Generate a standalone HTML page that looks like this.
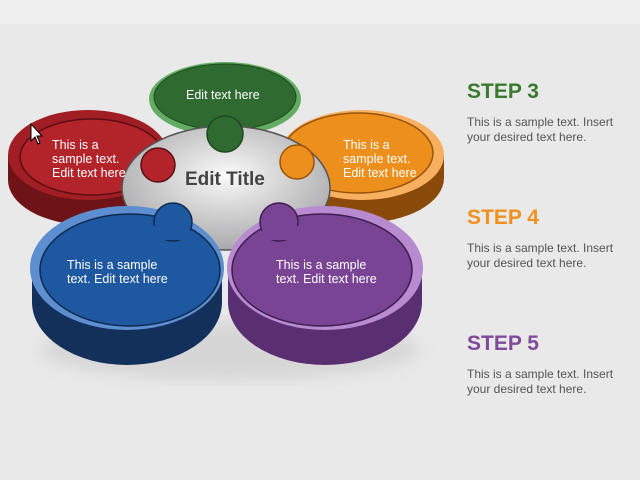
<!DOCTYPE html>
<html><head><meta charset="utf-8"><style>
body{margin:0;width:640px;height:480px;overflow:hidden;background:#e9e9e9;font-family:"Liberation Sans",sans-serif}
.s{position:absolute;left:467px;font-weight:bold;font-size:21px}
.t{position:absolute;left:467px;font-size:12px;color:#555;line-height:15px}
</style></head><body>
<div style="position:absolute;left:0;top:0;width:640px;height:24px;background:#efefef"></div>
<svg width="640" height="480" style="position:absolute;left:0;top:0">
<defs>
<radialGradient id="w" cx="0.5" cy="0.4" r="0.6"><stop offset="0" stop-color="#fafafa"/><stop offset="1" stop-color="#a9a9ab"/></radialGradient>
<filter id="b"><feGaussianBlur stdDeviation="8"/></filter>
</defs>
<ellipse cx="230" cy="350" rx="190" ry="30" fill="#c4c4c4" filter="url(#b)" opacity="0.5"/>
<!-- red -->
<ellipse cx="88" cy="180" rx="80" ry="45" fill="#6e1416"/>
<rect x="8" y="155" width="160" height="25" fill="#6e1416"/>
<ellipse cx="88" cy="155" rx="80" ry="45" fill="#a01e24"/>
<ellipse cx="92" cy="157" rx="72" ry="38" fill="#b3232a" stroke="#5a1012" stroke-width="1.5"/>
<!-- orange -->
<ellipse cx="362" cy="178" rx="82" ry="45" fill="#8a4a0a"/>
<rect x="280" y="155" width="164" height="23" fill="#8a4a0a"/>
<ellipse cx="362" cy="155" rx="82" ry="45" fill="#f6b060"/>
<ellipse cx="358" cy="153" rx="75" ry="40" fill="#ec8f1c" stroke="#9a5408" stroke-width="1.5"/>
<!-- green -->
<ellipse cx="225" cy="99" rx="76" ry="37" fill="#62ad62"/>
<ellipse cx="225" cy="97" rx="71" ry="33" fill="#2f6a30" stroke="#1d4a1e" stroke-width="1"/>
<!-- center -->
<ellipse cx="226" cy="188" rx="104" ry="62" fill="url(#w)" stroke="#555" stroke-width="1.5"/>
<circle cx="225" cy="134" r="18" fill="#2f6a30" stroke="#1d4a1e" stroke-width="1.5"/>
<circle cx="158" cy="165" r="17" fill="#b3232a" stroke="#5a1012" stroke-width="1.5"/>
<circle cx="297" cy="162" r="17" fill="#ec8f1c" stroke="#9a5408" stroke-width="1.5"/>
<!-- blue -->
<ellipse cx="127" cy="302" rx="95" ry="63" fill="#13305a"/>
<rect x="32" y="268" width="190" height="34" fill="#13305a"/>
<ellipse cx="127" cy="268" rx="97" ry="62" fill="#5c8ed0"/>
<ellipse cx="130" cy="270" rx="90" ry="56" fill="#1d58a0" stroke="#0e2a50" stroke-width="1.5"/>
<circle cx="173" cy="222" r="19" fill="#1d58a0" stroke="#0e2a50" stroke-width="1.5"/>
<rect x="150" y="226" width="40" height="14" fill="#1d58a0"/>
<!-- purple -->
<ellipse cx="325" cy="302" rx="97" ry="63" fill="#5a2f72"/>
<rect x="228" y="268" width="194" height="34" fill="#5a2f72"/>
<ellipse cx="325" cy="268" rx="98" ry="62" fill="#b88ad0"/>
<ellipse cx="322" cy="270" rx="90" ry="56" fill="#7a4494" stroke="#3e1e50" stroke-width="1.5"/>
<circle cx="279" cy="222" r="19" fill="#7a4494" stroke="#3e1e50" stroke-width="1.5"/>
<rect x="262" y="226" width="40" height="14" fill="#7a4494"/>
<g fill="#fff" font-size="12.5">
<text x="186" y="99">Edit text here</text>
<text x="52" y="149">This is a</text><text x="52" y="163">sample text.</text><text x="52" y="177">Edit text here</text>
<text x="343" y="149">This is a</text><text x="343" y="163">sample text.</text><text x="343" y="177">Edit text here</text>
<text x="67" y="269">This is a sample</text><text x="67" y="283">text. Edit text here</text>
<text x="276" y="269">This is a sample</text><text x="276" y="283">text. Edit text here</text>
</g>
<text x="185" y="185" font-size="19" font-weight="bold" fill="#444">Edit Title</text>
<path d="M31 124 L31 141 L35 137 L38 144 L40 143 L37 136 L42 136 Z" fill="#fff" stroke="#000" stroke-width="1"/>
</svg>
<div class="s" style="top:80px;color:#3a7a2e">STEP 3</div>
<div class="t" style="top:115px">This is a sample text. Insert<br>your desired text here.</div>
<div class="s" style="top:206px;color:#f0901e">STEP 4</div>
<div class="t" style="top:241px">This is a sample text. Insert<br>your desired text here.</div>
<div class="s" style="top:332px;color:#7f4a9a">STEP 5</div>
<div class="t" style="top:367px">This is a sample text. Insert<br>your desired text here.</div>
</body></html>
